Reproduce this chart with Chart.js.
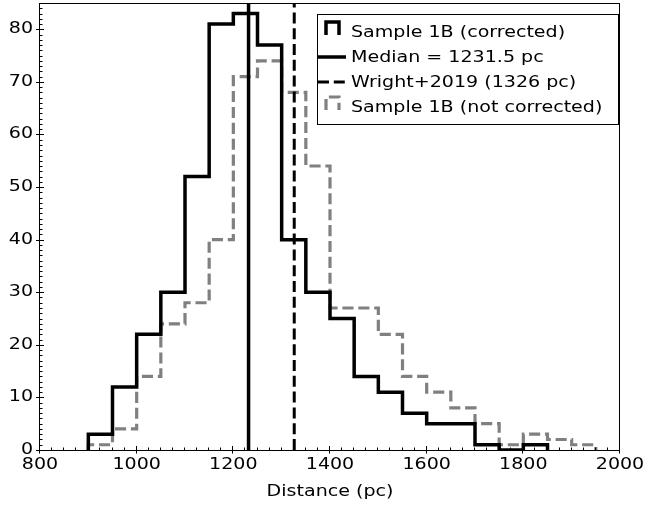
<!DOCTYPE html>
<html>
<head>
<meta charset="utf-8">
<script src="https://cdn.jsdelivr.net/npm/chart.js@4"></script>
<style>
  html, body { margin: 0; padding: 0; background: #fff; }
  canvas { display: block; }
</style>
</head>
<body>
<canvas id="graph1" width="645" height="507"></canvas>
<script>
// histogram bins (pc) and counts
var binEdges = [900, 950, 1000, 1050, 1100, 1150, 1200, 1250, 1300, 1350, 1400,
                1450, 1500, 1550, 1600, 1650, 1700, 1750, 1800, 1850, 1900, 1950];
var countsCorrected = [3, 12, 22, 30, 52, 81, 83, 77, 40, 30, 25, 14, 11, 7, 5, 5, 1, 0, 1];
var countsNotCorrected = [1, 4, 14, 24, 28, 40, 71, 74, 68, 54, 27, 27, 22, 14, 11, 8, 5, 1, 3, 2, 1];
var medianDistance = 1231.5;
var wrightDistance = 1326;

var xTicks = [800, 1000, 1200, 1400, 1600, 1800, 2000];
var yTicks = [0, 10, 20, 30, 40, 50, 60, 70, 80];
var xMinorStep = 25;
var yMinorStep = 1;
var xRange = [800, 2000];
var yRange = [0, 85];

var labels = ['Sample 1B (corrected)', 'Median = 1231.5 pc', 'Wright+2019 (1326 pc)', 'Sample 1B (not corrected)'];

var fontName = '"DejaVu Sans", sans-serif';
var textStretch = 1.27;

function stepPoints(edges, counts) {
  var pts = [{x: edges[0], y: 0}];
  for (var i = 0; i < counts.length; i++) {
    pts.push({x: edges[i + 1], y: counts[i]});
  }
  pts.push({x: edges[counts.length], y: 0});
  return pts;
}

function vline(value) {
  return [{x: value, y: yRange[0]}, {x: value, y: yRange[1]}];
}

function stretchText(ctx, text, x, y, align) {
  ctx.save();
  ctx.translate(x, y);
  ctx.scale(textStretch, 1);
  ctx.textAlign = align;
  ctx.textBaseline = 'middle';
  ctx.fillText(text, 0, 0);
  ctx.restore();
}

var axesPlugin = {
  id: 'axesPlugin',
  afterDatasetsDraw: function(chart) {
    var ctx = chart.ctx;
    var a = chart.chartArea;
    var xs = chart.scales.x, ys = chart.scales.y;
    ctx.save();

    // frame
    ctx.strokeStyle = '#000';
    ctx.lineWidth = 1;
    ctx.strokeRect(a.left - 0.5, a.top + 0.5, a.right - a.left, a.bottom - a.top);

    // minor ticks
    ctx.beginPath();
    for (var v = xRange[0]; v <= xRange[1]; v += xMinorStep) {
      var px = Math.round(xs.getPixelForValue(v)) - 0.5;
      ctx.moveTo(px, a.bottom); ctx.lineTo(px, a.bottom - 2.5);
    }
    for (var w = yRange[0]; w <= yRange[1]; w += yMinorStep) {
      var py = Math.round(ys.getPixelForValue(w)) + 0.5;
      ctx.moveTo(a.left, py); ctx.lineTo(a.left + 2.5, py);
    }
    // major ticks (in and out)
    xTicks.forEach(function(t) {
      var px = Math.round(xs.getPixelForValue(t)) - 0.5;
      ctx.moveTo(px, a.bottom + 3.5); ctx.lineTo(px, a.bottom - 4);
    });
    yTicks.forEach(function(t) {
      var py = Math.round(ys.getPixelForValue(t)) + 0.5;
      ctx.moveTo(a.left - 4, py); ctx.lineTo(a.left + 4, py);
    });
    ctx.stroke();

    // tick labels
    ctx.fillStyle = '#000';
    ctx.font = '15px ' + fontName;
    xTicks.forEach(function(t) {
      stretchText(ctx, String(t), xs.getPixelForValue(t), a.bottom + 15, 'center');
    });
    yTicks.forEach(function(t) {
      stretchText(ctx, String(t), a.left - 7, ys.getPixelForValue(t), 'right');
    });
    stretchText(ctx, 'Distance (pc)', (a.left + a.right) / 2, 492, 'center');

    // legend
    var bx = 317, by = 14, bw = 301, bh = 110;
    ctx.fillStyle = '#fff';
    ctx.fillRect(bx, by, bw, bh);
    ctx.strokeStyle = '#000';
    ctx.lineWidth = 1;
    ctx.strokeRect(bx + 0.5, by + 0.5, bw, bh);

    var rows = [32, 57, 82, 107];
    var ds = chart.data.datasets;
    for (var i = 0; i < ds.length; i++) {
      var d = ds[i], cy = rows[i];
      ctx.strokeStyle = d.borderColor;
      ctx.lineWidth = d.borderWidth;
      ctx.setLineDash(d.borderDash || []);
      ctx.beginPath();
      if (d.stepped) {
        ctx.moveTo(326, cy + 3); ctx.lineTo(326, cy - 10);
        ctx.lineTo(339, cy - 10); ctx.lineTo(339, cy + 3);
      } else {
        ctx.moveTo(318, cy); ctx.lineTo(346, cy);
      }
      ctx.stroke();
      ctx.setLineDash([]);
      ctx.fillStyle = '#000';
      stretchText(ctx, d.label, 351, cy + 1, 'left');
    }
    ctx.restore();
  }
};

var ctx = document.getElementById('graph1').getContext('2d');

var data = {
  datasets: [{
    label: labels[0],
    data: stepPoints(binEdges, countsCorrected),
    stepped: 'after',
    borderColor: '#000000',
    borderWidth: 3.5,
    pointRadius: 0,
    fill: false
  }, {
    label: labels[1],
    data: vline(medianDistance),
    borderColor: '#000000',
    borderWidth: 3.5,
    pointRadius: 0,
    fill: false
  }, {
    label: labels[2],
    data: vline(wrightDistance),
    borderColor: '#000000',
    borderWidth: 3,
    borderDash: [11, 4.8],
    pointRadius: 0,
    fill: false
  }, {
    label: labels[3],
    data: stepPoints(binEdges, countsNotCorrected),
    stepped: 'after',
    borderColor: '#808080',
    borderWidth: 3.2,
    borderDash: [11.1, 4.8],
    pointRadius: 0,
    fill: false
  }]
};

var graph1 = new Chart(ctx, {
  type: 'line',
  data: data,
  plugins: [axesPlugin],
  options: {
    responsive: false,
    animation: false,
    devicePixelRatio: 1,
    layout: { padding: { left: 40, right: 25, top: 3, bottom: 57 } },
    scales: {
      x: { type: 'linear', min: xRange[0], max: xRange[1], display: false },
      y: { type: 'linear', min: yRange[0], max: yRange[1], display: false }
    },
    plugins: {
      legend: { display: false },
      tooltip: { enabled: false }
    }
  }
});
</script>
</body>
</html>
